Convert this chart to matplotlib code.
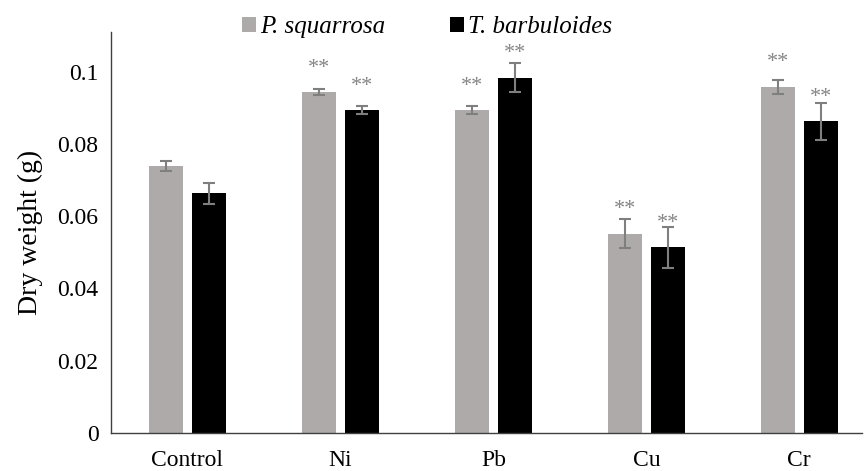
import matplotlib
matplotlib.use("Agg")
import matplotlib.pyplot as plt
import numpy as np

categories = ["Control", "Ni", "Pb", "Cu", "Cr"]
series_names = ["P. squarrosa", "T. barbuloides"]
p_squarrosa = [0.0739, 0.0944, 0.0893, 0.0552, 0.0958]
p_squarrosa_err = [0.0014, 0.0008, 0.0011, 0.0040, 0.0020]
t_barbuloides = [0.0663, 0.0893, 0.0984, 0.0514, 0.0863]
t_barbuloides_err = [0.0028, 0.0011, 0.0040, 0.0056, 0.0051]
p_sig = ["", "**", "**", "**", "**"]
t_sig = ["", "**", "**", "**", "**"]
yticks = [0, 0.02, 0.04, 0.06, 0.08, 0.1]
ytick_labels = ["0", "0.02", "0.04", "0.06", "0.08", "0.1"]

plt.rcParams['font.family'] = ['Liberation Serif', 'DejaVu Serif']

fig = plt.figure(figsize=(8.64, 4.71), dpi=100)
ax = fig.add_axes([111/864, 1-433/471, (862-111)/864, (433-32)/471])

x = np.arange(len(categories))
w = 0.222
off = 0.14
gray = '#AEAAAA'
errc = '#7F7F7F'

b1 = ax.bar(x - off, p_squarrosa, w, color=gray, label=series_names[0], zorder=2)
b2 = ax.bar(x + off, t_barbuloides, w, color='black', label=series_names[1], zorder=2)
ax.errorbar(x - off, p_squarrosa, yerr=p_squarrosa_err, fmt='none', ecolor=errc,
            elinewidth=1.5, capsize=4.5, capthick=1.5, zorder=3)
ax.errorbar(x + off, t_barbuloides, yerr=t_barbuloides_err, fmt='none', ecolor=errc,
            elinewidth=1.5, capsize=4.5, capthick=1.5, zorder=3)

for xi, v, s in zip(x - off, p_squarrosa, p_sig):
    if s:
        ax.annotate(s, (xi, v), xytext=(0, 14), textcoords='offset points',
                    ha='center', va='baseline', fontsize=16, color='#858585')
for xi, v, s in zip(x + off, t_barbuloides, t_sig):
    if s:
        ax.annotate(s, (xi, v), xytext=(0, 14), textcoords='offset points',
                    ha='center', va='baseline', fontsize=16, color='#858585')

ax.set_xlim(-0.5, 4.41)
ax.set_ylim(0, 0.111)
ax.set_xticks(x)
ax.set_xticklabels(categories, fontsize=17)
ax.set_yticks(yticks)
ax.set_yticklabels(ytick_labels, fontsize=17)
ax.tick_params(axis='both', length=0)
ax.tick_params(axis='y', pad=9)
ax.tick_params(axis='x', pad=12.5)
ax.set_ylabel("Dry weight (g)", fontsize=20, labelpad=10)

for sp in ['top', 'right']:
    ax.spines[sp].set_visible(False)
for sp in ['left', 'bottom']:
    ax.spines[sp].set_color('#404040')
    ax.spines[sp].set_linewidth(1.0)

leg = fig.legend(handles=[b1, b2], labels=series_names, loc='center',
                 bbox_to_anchor=(427/864, 1-27/471), ncol=2, frameon=False,
                 prop={'family': 'Liberation Serif', 'style': 'italic', 'size': 18},
                 handlelength=0.55, handleheight=0.55, handletextpad=0.15,
                 columnspacing=2.6)

fig.savefig("out.png", dpi=100)
